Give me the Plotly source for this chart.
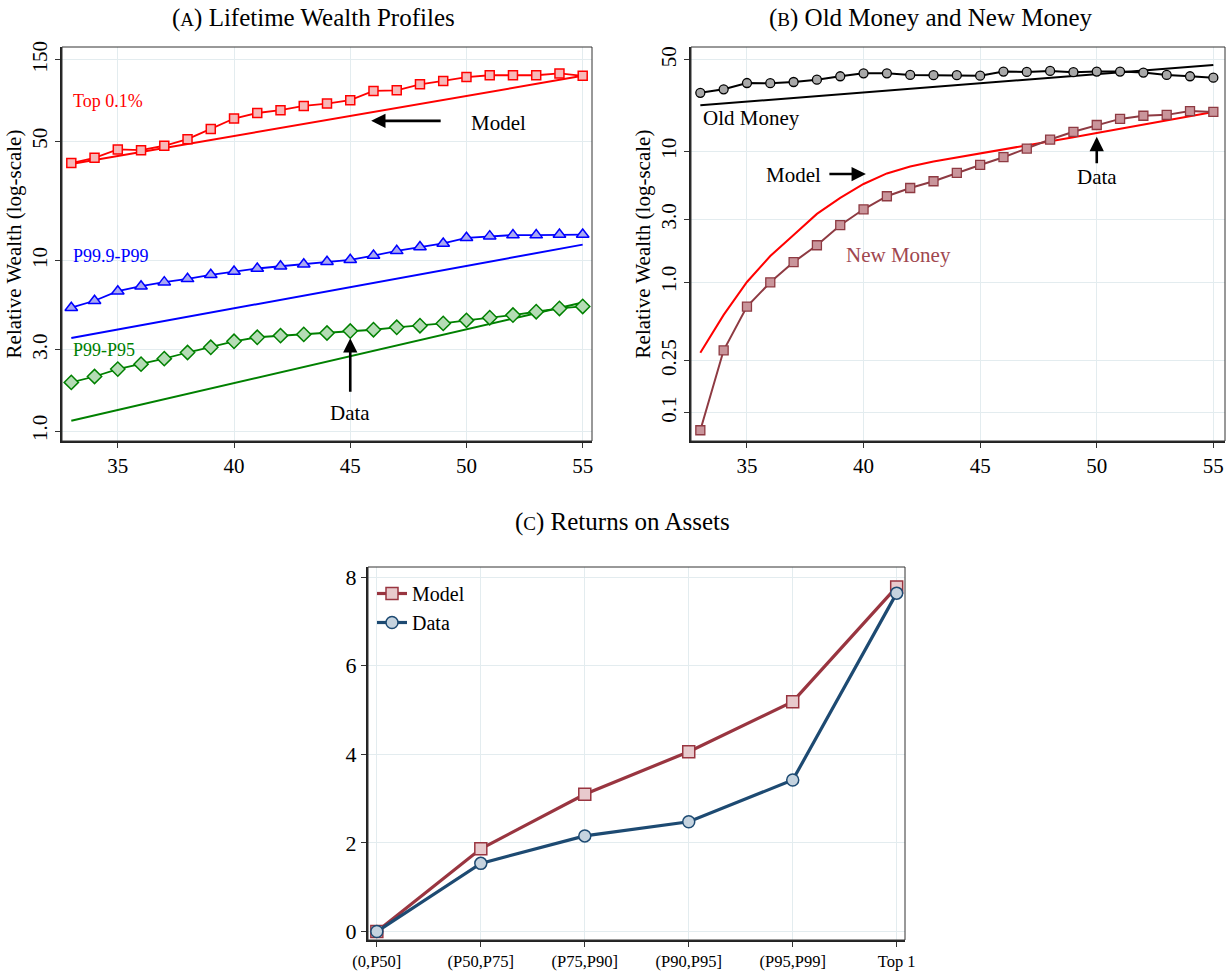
import numpy as np
import plotly.graph_objects as go

# ---------------- Data ----------------
ages = list(range(33, 56))
model_ages = [33, 55]

# Panel A: lifetime wealth profiles (data)
top01_data = [37.3, 40.0, 44.8, 44.4, 47.1, 51.5, 59.1, 68.0, 73.3, 76.1, 80.6, 83.2,
              87.1, 98.7, 99.6, 108, 113, 119, 122, 122, 122, 125, 121]
p999_p99_data = [5.29, 5.81, 6.61, 7.07, 7.47, 7.81, 8.25, 8.62, 8.98, 9.26, 9.51, 9.83,
                 10.1, 10.7, 11.4, 12.0, 12.6, 13.6, 13.9, 14.1, 14.1, 14.2, 14.2]
p99_p95_data = [1.93, 2.09, 2.31, 2.47, 2.66, 2.89, 3.10, 3.36, 3.55, 3.63, 3.69, 3.76,
                3.86, 3.93, 4.06, 4.15, 4.28, 4.46, 4.62, 4.79, 5.01, 5.24, 5.38]
# Panel A: model (straight in log scale)
top01_model = [36.8, 121]
p999_p99_model = [3.51, 12.4]
p99_p95_model = [1.15, 5.68]

# Panel B: old money / new money
old_money_data = [28.0, 29.8, 33.3, 33.2, 33.9, 35.3, 37.5, 39.5, 39.5, 38.4, 38.2, 38.2,
                  37.9, 40.7, 40.5, 41.2, 40.3, 40.7, 40.7, 40.0, 38.4, 37.5, 36.6]
old_money_model = [22.5, 45.8]
new_money_data = [0.0734, 0.30, 0.648, 0.995, 1.42, 1.91, 2.72, 3.60, 4.53, 5.24, 5.90, 6.83,
                  7.86, 9.01, 10.5, 12.3, 14.1, 15.9, 17.7, 18.7, 19.0, 20.3, 20.0]
new_money_model = [0.288, 0.560, 1.00, 1.58, 2.29, 3.32, 4.40, 5.62, 6.77, 7.66, 8.36, 8.97,
                   9.55, 10.3, 11.1, 11.9, 12.8, 13.8, 14.9, 16.0, 17.3, 18.6, 20.0]

# Panel C: returns on assets
groups = ["(0,P50]", "(P50,P75]", "(P75,P90]", "(P90,P95]", "(P95,P99]", "Top 1"]
returns_model = [0.0, 1.87, 3.10, 4.06, 5.19, 7.78]
returns_data = [0.0, 1.54, 2.16, 2.48, 3.42, 7.64]

# ---------------- Styling ----------------
FONT = "Liberation Serif"
GRID = "#e3ecef"
INK = "#000000"
W, H = 1229, 973

def px(x):
    return x / W

def py(y):
    return 1 - y / H

fig = go.Figure()

def add(x, y, xa, ya, color, width, marker=None, name=None, showlegend=False):
    mode = "lines+markers" if marker else "lines"
    fig.add_trace(go.Scatter(x=x, y=y, mode=mode, xaxis=xa, yaxis=ya,
                             line=dict(color=color, width=width),
                             marker=marker, name=name, showlegend=showlegend,
                             hoverinfo="skip"))

# Panel A
add(model_ages, top01_model, "x", "y", "#ff0000", 2)
add(ages, top01_data, "x", "y", "#ff0000", 1.8,
    dict(symbol="square", size=9, color="#f7b8b8", line=dict(color="#ff0000", width=1.5)))
add(model_ages, p999_p99_model, "x", "y", "#0000ff", 2)
add(ages, p999_p99_data, "x", "y", "#0000ff", 1.8,
    dict(symbol="triangle-up", size=11, color="#a9a9f2", line=dict(color="#0000ff", width=1.5)))
add(model_ages, p99_p95_model, "x", "y", "#008000", 2)
add(ages, p99_p95_data, "x", "y", "#008000", 1.8,
    dict(symbol="diamond", size=11, color="#b5dcb5", line=dict(color="#008000", width=1.5)))

# Panel B
add(model_ages, old_money_model, "x2", "y2", "#000000", 2)
add(ages, old_money_data, "x2", "y2", "#000000", 2,
    dict(symbol="circle", size=9, color="#a8a8a8", line=dict(color="#000000", width=1.3)))
add(ages, new_money_model, "x2", "y2", "#ff0000", 2)
add(ages, new_money_data, "x2", "y2", "#8e3a42", 2,
    dict(symbol="square", size=9, color="#c9959b", line=dict(color="#8e3a42", width=1.3)))

# Panel C
add(groups, returns_model, "x3", "y3", "#993540", 3.2,
    dict(symbol="square", size=12, color="#e8cacd", line=dict(color="#993540", width=1.5)),
    name="Model", showlegend=True)
add(groups, returns_data, "x3", "y3", "#1d4a72", 3.2,
    dict(symbol="circle", size=12, color="#c5d3df", line=dict(color="#1d4a72", width=1.5)),
    name="Data", showlegend=True)

# ---------------- Axes ----------------
axis_common = dict(showgrid=True, gridcolor=GRID, gridwidth=1, zeroline=False,
                   showline=True, linecolor="#222222", linewidth=2, automargin=False,
                   ticks="outside", ticklen=5, tickcolor="#333333", tickwidth=1,
                   tickfont=dict(family=FONT, size=21, color=INK))

ytitle = dict(text="Relative Wealth (log-scale)", font=dict(family=FONT, size=21, color=INK),
              standoff=0)

xa = dict(axis_common, domain=[px(62), px(592)], range=[32.6, 55.4],
          tickvals=[35, 40, 45, 50, 55], anchor="y")
ya = dict(axis_common, domain=[py(441), py(47)], type="log",
          range=[-0.058, 2.252], tickvals=[1, 3, 10, 50, 150],
          ticktext=["1.0", "3.0", "10", "50", "150"], tickangle=-90, anchor="x",
          title=ytitle)
xb = dict(axis_common, domain=[px(691), px(1225)], range=[32.6, 55.5],
          tickvals=[35, 40, 45, 50, 55], anchor="y2")
yb = dict(axis_common, domain=[py(441), py(47)], type="log",
          range=[-1.2165, 1.798], tickvals=[0.1, 0.25, 1, 3, 10, 50],
          ticktext=["0.1", "0.25", "1.0", "3.0", "10", "50"], tickangle=-90, anchor="x2",
          title=ytitle)
xc = dict(axis_common, domain=[px(368), px(905)], type="category", range=[-0.085, 5.08],
          anchor="y3", tickfont=dict(family=FONT, size=16.5, color=INK))
yc = dict(axis_common, domain=[py(940), py(567)], range=[-0.19, 8.23],
          tickvals=[0, 2, 4, 6, 8], anchor="x3",
          tickfont=dict(family=FONT, size=22, color=INK))

# thin frames (top/right borders)
shapes = []
for xr, yr in [("x", "y"), ("x2", "y2"), ("x3", "y3")]:
    shapes.append(dict(type="rect", xref=f"{xr} domain", yref=f"{yr} domain",
                       x0=0, x1=1, y0=0, y1=1, line=dict(color="#333333", width=1),
                       layer="above"))

# ---------------- Annotations ----------------
L = np.log10
ann = []
def txt(text, x, y, xr, yr, color=INK, size=20, xanchor="left"):
    ann.append(dict(text=text, x=x, y=y, xref=xr, yref=yr, showarrow=False,
                    xanchor=xanchor, yanchor="middle",
                    font=dict(family=FONT, size=size, color=color)))

def arrow(x, y, xr, yr, ax, ay):
    ann.append(dict(text="", x=x, y=y, xref=xr, yref=yr, showarrow=True,
                    ax=ax, ay=ay, axref="pixel", ayref="pixel",
                    arrowhead=2, arrowsize=1.1, arrowwidth=2.6, arrowcolor=INK))

# Panel A labels
txt("Top 0.1%", 33.0, L(86), "x", "y", "#ff0000", 18)
txt("P99.9-P99", 33.0, L(10.7), "x", "y", "#0000ff", 18)
txt("P99-P95", 33.0, L(2.98), "x", "y", "#008000", 18)
txt("Model", 50.1, L(64), "x", "y", size=21)
arrow(45.9, L(65.9), "x", "y", 71, 0)
txt("Data", 45.0, L(1.27), "x", "y", size=21, xanchor="center")
arrow(45.0, L(3.50), "x", "y", 0, 55)

# Panel B labels
txt("Old Money", 33.05, L(18.0), "x2", "y2", size=21)
txt("Model", 38.25, L(6.6), "x2", "y2", size=21, xanchor="right")
arrow(40.1, L(6.7), "x2", "y2", -38, 0)
txt("Data", 50.0, L(6.35), "x2", "y2", size=21, xanchor="center")
arrow(50.0, L(12.9), "x2", "y2", 0, 28)
txt("New Money", 39.15, L(1.61), "x2", "y2", "#a0474f", 21)

# Titles
def title(text, cx, cy):
    ann.append(dict(text=text, x=px(cx), y=py(cy), xref="paper", yref="paper",
                    showarrow=False, xanchor="center", yanchor="middle", borderpad=0,
                    font=dict(family=FONT, size=25, color=INK)))

title("(<span style='font-size:19px'>A</span>) Lifetime Wealth Profiles", 313, 18)
title("(<span style='font-size:19px'>B</span>) Old Money and New Money", 931, 18)
title("(<span style='font-size:19px'>C</span>) Returns on Assets", 622, 522)

fig.update_layout(
    width=W, height=H, margin=dict(l=0, r=0, t=0, b=0, autoexpand=False),
    paper_bgcolor="white", plot_bgcolor="white",
    xaxis=xa, yaxis=ya, xaxis2=xb, yaxis2=yb, xaxis3=xc, yaxis3=yc,
    shapes=shapes, annotations=ann,
    legend=dict(x=px(372), y=py(574), xanchor="left", yanchor="top",
                bgcolor="rgba(0,0,0,0)", font=dict(family=FONT, size=20, color=INK),
                itemwidth=30, tracegroupgap=2),
    font=dict(family=FONT, color=INK),
)

fig.write_html("out.html",
               config={"displayModeBar": False},
               post_script="document.body.style.margin='0';"
                           "document.body.style.overflow='hidden';")
